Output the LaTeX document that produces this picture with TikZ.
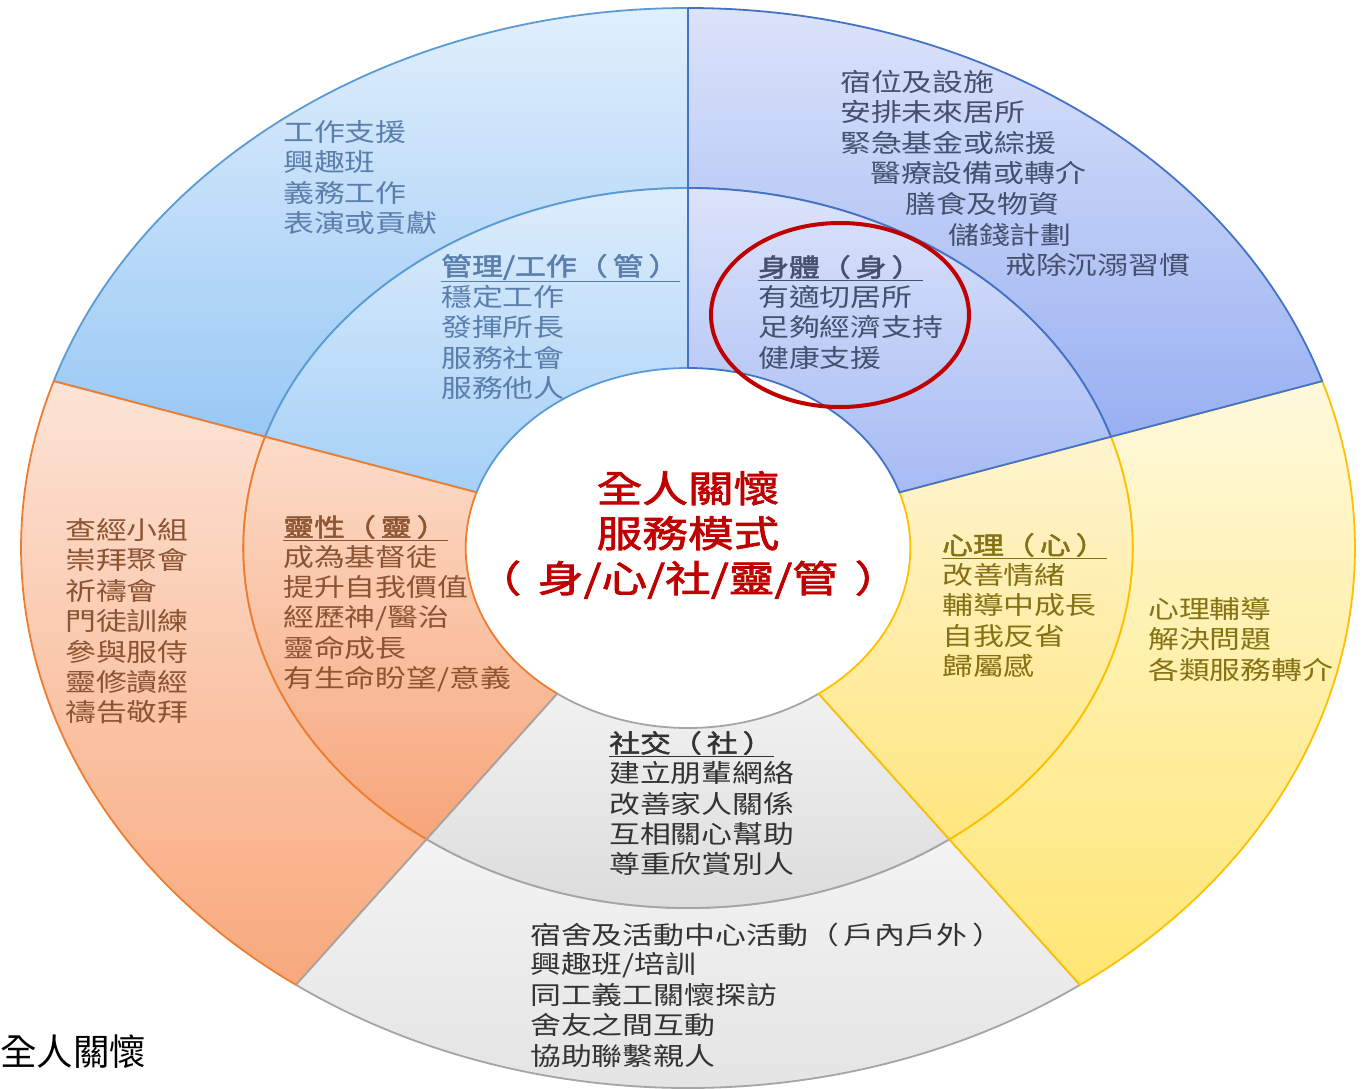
\documentclass[tikz,border=0pt]{standalone}
\usepackage{fontspec}
\newfontfamily\cjkw{Noto Sans CJK TC}[FakeStretch=1.235,AutoFakeBold=2]
\newfontfamily\cjkcap{Noto Sans CJK TC}
\definecolor{gline}{HTML}{5B9BD5}
\definecolor{sline}{HTML}{4472C4}
\definecolor{oline}{HTML}{ED7D31}
\definecolor{kline}{HTML}{A5A5A5}
\definecolor{yline}{HTML}{FFC000}
\definecolor{gtext}{HTML}{5A7FAD}
\definecolor{stext}{HTML}{45506E}
\definecolor{otext}{HTML}{8C5433}
\definecolor{ytext}{HTML}{857214}
\definecolor{ktext}{HTML}{333333}
\definecolor{redc}{HTML}{C00000}
\definecolor{gtop}{HTML}{E1EFFC}\definecolor{gbot}{HTML}{98C8F5}
\definecolor{gitop}{HTML}{DDEDFC}\definecolor{gibot}{HTML}{A6D0F7}
\definecolor{stop}{HTML}{DCE3FA}\definecolor{sbot}{HTML}{98B0F2}
\definecolor{sitop}{HTML}{DCE3FA}\definecolor{sibot}{HTML}{A6BBF4}
\definecolor{ytop}{HTML}{FFF9DC}\definecolor{ybot}{HTML}{FFE674}
\definecolor{yitop}{HTML}{FFF4D0}\definecolor{yibot}{HTML}{FFE67E}
\definecolor{ktop}{HTML}{F3F3F3}\definecolor{kbot}{HTML}{E2E2E2}
\definecolor{kitop}{HTML}{F1F1F1}\definecolor{kibot}{HTML}{DADADA}
\definecolor{otop}{HTML}{FCE4D6}\definecolor{obot}{HTML}{F8A87C}
\definecolor{oitop}{HTML}{FCDCC9}\definecolor{oibot}{HTML}{F7A57A}
\tikzset{
  seg/.style={line width=1.8pt, line join=round},
  txt/.style={inner sep=0pt, anchor=west, font=\cjkw\fontsize{25}{30}\selectfont},
  head/.style={txt, font=\cjkw\bfseries\fontsize{25}{30}\selectfont},
  uline/.style={line width=1.4pt},
}
\newcommand\lp{（\hspace{0.2em}}
\newcommand\rp{\hspace{0.2em}）}
% annular sector: start angle, end angle, inner radius, outer radius
\newcommand\ring[4]{(#1:#4) arc[start angle=#1, end angle=#2, radius=#4] -- (#2:#3) arc[start angle=#2, end angle=#1, radius=#3] -- cycle}
\newcommand\tlines[6]{%
  \foreach \t [count=\i] in {#6} {\node[#2] (#1\i) at (#3,{-(#4)-(#5)*(\i-1)}) {\t};}}
\begin{document}
\begin{tikzpicture}[x=1pt,y=1pt]
\useasboundingbox (0,0) rectangle (1365,-1088);
\fill[white] (0,0) rectangle (1365,-1088);
\begin{scope}[shift={(688,-548)}, xscale=1.235]
  % 管
  \path[seg, draw=gline, top color=gtop, bottom color=gbot] \ring{90}{162}{360}{540};
  \path[seg, draw=gline, top color=gitop, bottom color=gibot] \ring{90}{162}{180}{360};
  % 靈
  \path[seg, draw=oline, top color=otop, bottom color=obot] \ring{162}{234}{360}{540};
  \path[seg, draw=oline, top color=oitop, bottom color=oibot] \ring{162}{234}{180}{360};
  % 社
  \path[seg, draw=kline, top color=ktop, bottom color=kbot] \ring{234}{306}{360}{540};
  \path[seg, draw=kline, top color=kitop, bottom color=kibot] \ring{234}{306}{180}{360};
  % 心
  \path[seg, draw=yline, top color=ytop, bottom color=ybot] \ring{-54}{18}{360}{540};
  \path[seg, draw=yline, top color=yitop, bottom color=yibot] \ring{-54}{18}{180}{360};
  % 身
  \path[seg, draw=sline, top color=stop, bottom color=sbot] \ring{18}{90}{360}{540};
  \path[seg, draw=sline, top color=sitop, bottom color=sibot] \ring{18}{90}{180}{360};
\end{scope}

% 管 texts
\tlines{go}{txt, text=gtext}{283}{132}{30.4}{工作支援,興趣班,義務工作,表演或貢獻}
\node[head, text=gtext] (gh) at (441,-267) {管理/工作\lp 管\rp};
\draw[uline, gtext] ([yshift=-1.5]gh.south west) -- ([yshift=-1.5]gh.south east);
\tlines{gi}{txt, text=gtext}{441}{297}{30.4}{穩定工作,發揮所長,服務社會,服務他人}

% 身 texts
\node[txt, text=stext] (so1) at (840,-82) {宿位及設施};
\node[txt, text=stext] (so2) at (840,-112) {安排未來居所};
\node[txt, text=stext] (so3) at (840,-143) {緊急基金或綜援};
\node[txt, text=stext] (so4) at (870,-173) {醫療設備或轉介};
\node[txt, text=stext] (so5) at (905,-204) {膳食及物資};
\node[txt, text=stext] (so6) at (948,-235) {儲錢計劃};
\node[txt, text=stext] (so7) at (1005,-265) {戒除沉溺習慣};
\node[head, text=stext] (sh) at (758,-267) {身體\lp 身\rp};
\draw[uline, stext] ([yshift=-1.5]sh.south west) -- ([yshift=-1.5]sh.south east);
\tlines{si}{txt, text=stext}{758}{297}{30.4}{有適切居所,足夠經濟支持,健康支援}

% 靈 texts
\tlines{oo}{txt, text=otext}{65}{530}{30.4}{查經小組,崇拜聚會,祈禱會,門徒訓練,參與服侍,靈修讀經,禱告敬拜}
\node[head, text=otext] (oh) at (283,-527) {靈性\lp 靈\rp};
\draw[uline, otext] ([yshift=-1.5]oh.south west) -- ([yshift=-1.5]oh.south east);
\tlines{oi}{txt, text=otext}{283}{557}{30.4}{成為基督徒,提升自我價值,經歷神/醫治,靈命成長,有生命盼望/意義}

% 心 texts
\node[head, text=ytext] (yh) at (942,-545) {心理\lp 心\rp};
\draw[uline, ytext] ([yshift=-1.5]yh.south west) -- ([yshift=-1.5]yh.south east);
\tlines{yi}{txt, text=ytext}{942}{575}{30.4}{改善情緒,輔導中成長,自我反省,歸屬感}
\tlines{yo}{txt, text=ytext}{1148}{609}{30.4}{心理輔導,解決問題,各類服務轉介}

% 社 texts
\node[head, text=ktext] (kh) at (609,-743) {社交\lp 社\rp};
\draw[uline, ktext] ([yshift=-1.5]kh.south west) -- ([yshift=-1.5]kh.south east);
\tlines{ki}{txt, text=ktext}{609}{773}{30.4}{建立朋輩網絡,改善家人關係,互相關心幫助,尊重欣賞別人}
\tlines{ko}{txt, text=ktext}{530}{935}{30.15}{宿舍及活動中心活動\lp 戶內戶外\rp,興趣班/培訓,同工義工關懷探訪,舍友之間互動,協助聯繫親人}

% centre
\node[align=center, inner sep=0pt, text=redc, font=\cjkw\bfseries\fontsize{37}{45}\selectfont] (ctr) at (688,-535) {全人關懷\\服務模式\\（\hspace{0.45em}身/心/社/靈/管\hspace{0.45em}）};

% red ellipse
\draw[redc, line width=4pt] (840,-315) ellipse[x radius=129, y radius=92];

% caption
\node[inner sep=0pt, anchor=west, font=\cjkcap\fontsize{36.5}{40}\selectfont] (cap) at (0,-1052) {全人關懷};
\end{tikzpicture}
\end{document}
